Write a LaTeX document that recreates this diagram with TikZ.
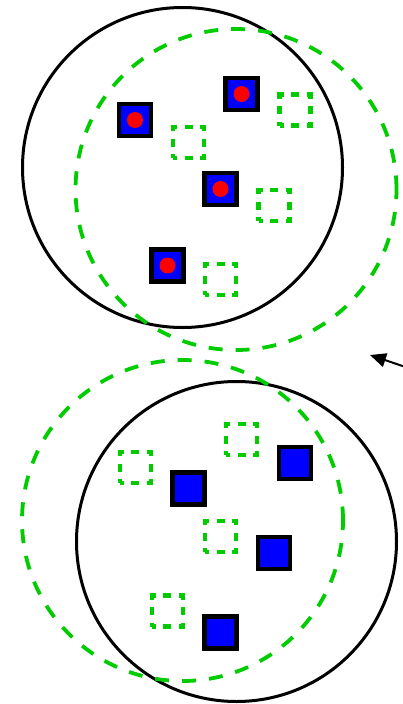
\documentclass[tikz,border=0pt]{standalone}
\usetikzlibrary{arrows.meta}
\definecolor{ptgreen}{RGB}{0,204,0}
\definecolor{ptblue}{RGB}{0,0,255}
\definecolor{ptred}{RGB}{255,0,0}
\tikzset{
  ring/.style={draw=black, line width=3pt},
  dashring/.style={draw=ptgreen, line width=3.8pt, dash pattern=on 14pt off 13pt},
  solidsq/.style={draw=black, fill=ptblue, line width=4.5pt, minimum size=32pt, inner sep=0pt, rectangle},
  hollowsq/.style={draw=ptgreen, line width=4.2pt, minimum size=31pt, inner sep=0pt, rectangle,
    dash pattern=on 8pt off 7.5pt on 8pt off 7.5pt, dash phase=4pt},
  dot/.style={circle, fill=ptred, minimum size=16pt, inner sep=0pt},
}
\begin{document}
\begin{tikzpicture}[x=1pt, y=-1pt]
\useasboundingbox (0,0) rectangle (403,704);
% upper pair of circles
\node[ring, circle, minimum size=320pt, inner sep=0pt] (ringA) at (182.5,167.5) {};
\node[dashring, circle, minimum size=321pt, inner sep=0pt] (dashA) at (236,189.5) {};
% lower pair of circles
\node[ring, circle, minimum size=320pt, inner sep=0pt] (ringB) at (236.5,541.5) {};
\node[dashring, circle, minimum size=321pt, inner sep=0pt] (dashB) at (182.5,520.5) {};

% upper squares with dots
\node[solidsq] (a1) at (135,120) {};
\node[dot] (d1) at (a1) {};
\node[solidsq] (a2) at (241.5,94) {};
\node[dot] (d2) at (a2) {};
\node[solidsq] (a3) at (220.5,189) {};
\node[dot] (d3) at (a3) {};
\node[solidsq] (a4) at (167.5,265.5) {};
\node[dot] (d4) at (a4) {};
% upper hollow squares
\node[hollowsq] (h1) at (188.5,142.5) {};
\node[hollowsq] (h2) at (295,110) {};
\node[hollowsq] (h3) at (274,205.5) {};
\node[hollowsq] (h4) at (220.5,279.5) {};

% lower squares
\node[solidsq] (b1) at (188.7,488.7) {};
\node[solidsq] (b2) at (295,463) {};
\node[solidsq] (b3) at (274,553) {};
\node[solidsq] (b4) at (220.7,632.5) {};
% lower hollow squares
\node[hollowsq] (g1) at (135.3,467.5) {};
\node[hollowsq] (g2) at (241.7,439.5) {};
\node[hollowsq] (g3) at (220.7,536.7) {};
\node[hollowsq] (g4) at (167.3,611) {};

% pointer
\coordinate (ptail) at (404,366.5);
\coordinate (ptip) at (370,355);
\draw[line width=2pt, -{Triangle[length=16pt,width=14pt]}] (ptail) -- (ptip);
\end{tikzpicture}
\end{document}
